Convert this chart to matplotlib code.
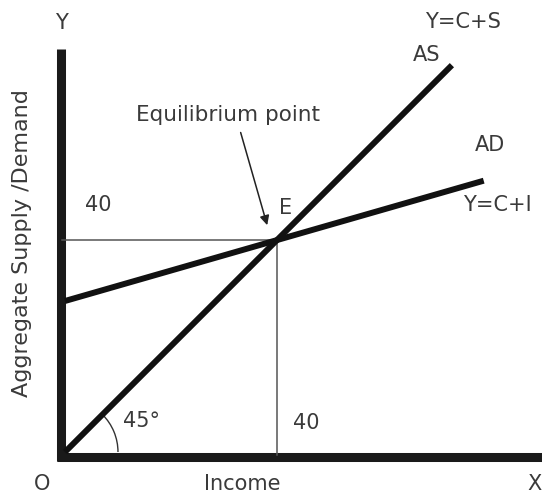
import numpy as np
import matplotlib.pyplot as plt
from matplotlib.patches import Arc

# aggregate supply (45 degree line) and aggregate demand, in income units
as_x = [0, 73]
as_y = [0, 73]
ad_x = [0, 79]
ad_y = [28.5, 51.2]
eq_point = (40, 40)
eq_labels = ["40", "40"]

txt = '#3a3a3a'

fig = plt.figure(figsize=(5.42, 4.97), dpi=100)
ax = fig.add_axes([0, 0, 1, 1])
ax.set_xlim(-12.26, 90)
ax.set_ylim(-8.49, 85.3)
ax.axis('off')

# thick axes
ax.plot([-0.7, -0.7], [-1.7, 76], color='#1a1a1a', lw=6.5, solid_capstyle='butt')
ax.plot([-1.5, 92], [-0.85, -0.85], color='#1a1a1a', lw=6.5, solid_capstyle='butt')

# guide lines to equilibrium
ex, ey = eq_point
ax.plot([-0.5, ex], [ey, ey], color='#555555', lw=1.1)
ax.plot([ex, ex], [-0.5, ey], color='#555555', lw=1.1)

# curves
ax.plot(as_x, as_y, color='#111111', lw=4.3, solid_capstyle='butt')
ax.plot(ad_x, ad_y, color='#111111', lw=4.3, solid_capstyle='butt')

# 45 degree arc
ax.add_patch(Arc((0, 0), 20, 20, theta1=0, theta2=45, color='#333333', lw=1))

fs = 15
ax.text(-0.6, 81, "Y", ha='center', va='center', fontsize=fs, color=txt)
ax.text(75.1, 81.1, "Y=C+S", ha='center', va='center', fontsize=fs, color=txt)
ax.text(68.3, 74.9, "AS", ha='center', va='center', fontsize=fs, color=txt)
ax.text(80.2, 57.9, "AD", ha='center', va='center', fontsize=fs, color=txt)
ax.text(75.1, 46.6, "Y=C+I", ha='left', va='center', fontsize=fs, color=txt)
ax.text(30.8, 63.6, "Equilibrium point", ha='center', va='center', fontsize=15.5, color=txt)
ax.text(41.7, 46, "E", ha='center', va='center', fontsize=fs, color=txt)
ax.text(6.2, 46.6, eq_labels[0], ha='center', va='center', fontsize=fs, color=txt)
ax.text(45.6, 5.5, eq_labels[1], ha='center', va='center', fontsize=fs, color=txt)
ax.text(14.5, 5.8, "45°", ha='center', va='center', fontsize=fs, color=txt)
ax.text(-4.3, -6.1, "O", ha='center', va='center', fontsize=fs, color=txt)
ax.text(33.4, -6.1, "Income", ha='center', va='center', fontsize=fs, color=txt)
ax.text(89.9, -6.1, "X", ha='right', va='center', fontsize=fs, color=txt)
ax.text(-8.1, 39.4, "Aggregate Supply /Demand", ha='center', va='center',
        rotation=90, fontsize=16, color=txt)

ax.annotate("", xy=(38.3, 42.3), xytext=(33, 60.8),
            arrowprops=dict(arrowstyle='-|>', color='#222222', lw=1.1,
                            mutation_scale=14))

plt.savefig("out.png", dpi=100)
